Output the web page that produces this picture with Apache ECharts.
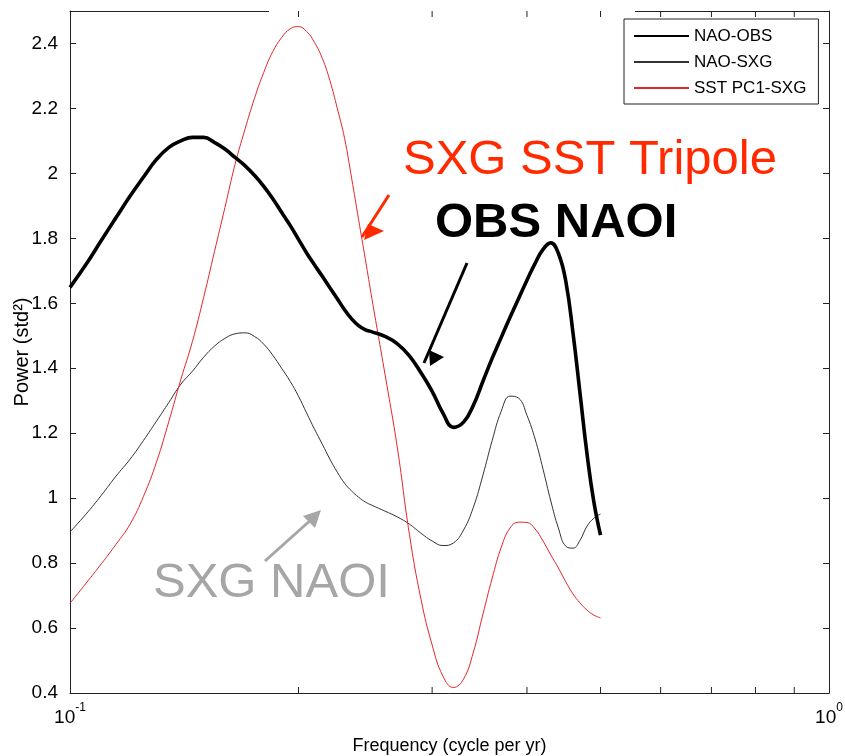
<!DOCTYPE html>
<html><head><meta charset="utf-8">
<script src="https://cdn.jsdelivr.net/npm/echarts@6/dist/echarts.min.js"></script>
<style>html,body{margin:0;padding:0;background:#fff}#c{width:845px;height:756px}</style>
</head><body><div id="c"></div>
<script>
// ---- data ----
const freq = [0.100,0.105,0.110,0.115,0.120,0.125,0.130,0.135,0.140,0.145,0.150,0.155,0.160,0.165,0.170,0.175,0.180,0.185,0.190,0.195,0.200,0.205,0.210,0.215,0.220,0.225,0.230,0.235,0.240,0.245,0.250,
  0.26,0.27,0.28,0.29,0.30,0.31,0.32,0.33,0.34,0.35,0.36,0.37,0.38,0.39,0.40,0.41,0.42,0.43,0.44,0.45,0.46,0.47,0.48,0.49,0.50];
const naoObs = [1.649,1.720,1.794,1.864,1.930,1.989,2.043,2.080,2.100,2.111,2.111,2.095,2.075,2.049,2.024,1.994,1.960,1.922,1.880,1.840,1.797,1.755,1.718,1.683,1.648,1.614,1.580,1.552,1.531,1.518,1.512,
  1.498,1.475,1.438,1.386,1.329,1.262,1.218,1.234,1.286,1.360,1.431,1.495,1.557,1.615,1.671,1.723,1.766,1.786,1.754,1.668,1.508,1.320,1.135,0.988,0.886];
const naoSxg = [0.896,0.951,1.009,1.068,1.120,1.178,1.237,1.295,1.351,1.391,1.434,1.468,1.492,1.506,1.509,1.498,1.474,1.440,1.400,1.360,1.314,1.262,1.212,1.166,1.120,1.080,1.046,1.022,1.003,0.988,0.978,
  0.960,0.942,0.920,0.892,0.868,0.854,0.862,0.902,0.972,1.071,1.178,1.268,1.314,1.308,1.255,1.182,1.089,0.991,0.908,0.852,0.846,0.871,0.914,0.938,0.951];
const sstPc1 = [0.676,0.738,0.798,0.858,0.920,1.006,1.111,1.237,1.366,1.483,1.618,1.759,1.895,2.028,2.135,2.231,2.311,2.375,2.418,2.445,2.452,2.437,2.403,2.354,2.286,2.200,2.108,1.985,1.858,1.735,1.612,
  1.382,1.154,0.889,0.689,0.548,0.452,0.417,0.443,0.526,0.643,0.754,0.849,0.908,0.926,0.925,0.905,0.868,0.825,0.785,0.742,0.705,0.677,0.655,0.640,0.631];
const seriesNames = ['NAO-OBS','NAO-SXG','SST PC1-SXG'];
const yMin = 0.4, yMax = 2.5, yStep = 0.2;
const xMinorTicks = [0.2,0.3,0.4,0.5,0.6,0.7,0.8,0.9];
const xAxisName = 'Frequency (cycle per yr)';
const yAxisName = 'Power (std²)';
const noteTexts = ['SXG SST Tripole','OBS NAOI','SXG NAOI'];

const FONT = '"Liberation Sans", Arial, Helvetica, sans-serif';
const pairs = v => freq.map((f,i)=>[f, v[i]]);

const chart = echarts.init(document.getElementById('c'), null, {renderer:'canvas'});
const axisLineStyle = {color:'#222', width:1};
const option = {
  animation:false,
  backgroundColor:'#fff',
  textStyle:{fontFamily:FONT},
  grid:{left:70, right:16, top:11, bottom:63, containLabel:false, outerBoundsMode:'none'},
  legend:{
    data:seriesNames, orient:'vertical', left:624, top:19,
    padding:[8,12,7,9], itemGap:8, itemWidth:55, itemHeight:14,
    borderColor:'#222', borderWidth:1, backgroundColor:'#fff',
    itemStyle:{opacity:0},
    textStyle:{fontFamily:FONT, fontSize:17, color:'#000', lineHeight:18},
    z:20
  },
  xAxis:[
    {type:'log', logBase:10, min:0.1, max:1, position:'bottom',
     name:xAxisName, nameLocation:'middle', nameGap:44, nameMoveOverlap:false,
     nameTextStyle:{fontFamily:FONT, fontSize:18, color:'#000'},
     axisLine:{lineStyle:axisLineStyle}, axisTick:{show:false}, splitLine:{show:false},
     axisLabel:{margin:9, color:'#000',
       formatter: v => '{b|10}{s|' + Math.round(Math.log10(v)) + '}',
       rich:{b:{fontFamily:FONT, fontSize:19, lineHeight:32, color:'#000'},
             s:{fontFamily:FONT, fontSize:12, lineHeight:12, verticalAlign:'top', color:'#000'}}}},
    {type:'log', logBase:10, min:0.1, max:1, position:'top',
     axisLine:{lineStyle:axisLineStyle}, axisTick:{show:false}, axisLabel:{show:false}, splitLine:{show:false}}
  ],
  yAxis:[
    {type:'value', min:yMin, max:yMax, interval:yStep, position:'left',
     name:yAxisName, nameLocation:'middle', nameGap:38, nameRotate:90, nameMoveOverlap:false,
     nameTextStyle:{fontFamily:FONT, fontSize:20, color:'#000'},
     axisLine:{show:true, lineStyle:axisLineStyle},
     axisTick:{show:true, inside:true, length:6, lineStyle:{color:'#222'}},
     splitLine:{show:false},
     axisLabel:{margin:12, fontFamily:FONT, fontSize:19, color:'#000',
       formatter: v => v > yMax - 0.05 ? '' : String(Math.round(v*10)/10)}},
    {type:'value', min:yMin, max:yMax, interval:yStep, position:'right',
     axisLine:{show:true, lineStyle:axisLineStyle},
     axisTick:{show:true, inside:true, length:6, lineStyle:{color:'#222'}},
     splitLine:{show:false}, axisLabel:{show:false}}
  ],
  series:[
    {name:seriesNames[0], type:'line', data:pairs(naoObs), symbol:'none', showSymbol:false, smooth:0.45,
     lineStyle:{color:'#000', width:3.6}, itemStyle:{color:'#000'}, z:4},
    {name:seriesNames[1], type:'line', data:pairs(naoSxg), symbol:'none', showSymbol:false, smooth:0.45,
     lineStyle:{color:'#333', width:1}, itemStyle:{color:'#333'}, z:3},
    {name:seriesNames[2], type:'line', data:pairs(sstPc1), symbol:'none', showSymbol:false, smooth:0.45,
     lineStyle:{color:'#e3262b', width:1}, itemStyle:{color:'#e3262b'}, z:3},
    {name:'minorTicks', type:'custom', silent:true, z:10, clip:false,
     data:xMinorTicks.map(f=>[f, yMin]), encode:{x:0, y:1},
     renderItem:(params, api) => {
       const f = api.value(0);
       const b = api.coord([f, yMin]);
       const t = api.coord([f, yMax]);
       return {type:'group', children:[
         {type:'line', shape:{x1:b[0], y1:b[1], x2:b[0], y2:b[1]-6}, style:{stroke:'#222', lineWidth:1}},
         {type:'line', shape:{x1:t[0], y1:t[1], x2:t[0], y2:t[1]+6}, style:{stroke:'#222', lineWidth:1}}
       ]};
     }}
  ],
  graphic:[
    {type:'rect', shape:{x:269, y:8, width:366, height:5}, style:{fill:'#fff'}, z:5, silent:true},
    // red annotation
    {type:'line', shape:{x1:389, y1:195, x2:362, y2:237}, style:{stroke:'#ff2a00', lineWidth:3}, z:30},
    {type:'polygon', shape:{points:[[364,240],[368,224],[384,231]]}, style:{fill:'#ff2a00'}, z:30},
    {type:'text', x:403, y:160, z:30, style:{text:noteTexts[0], font:'49px ' + FONT, fill:'#ff2a00',
      textAlign:'left', textVerticalAlign:'middle', align:'left', verticalAlign:'middle'}},
    // black annotation
    {type:'line', shape:{x1:467, y1:263, x2:424, y2:363}, style:{stroke:'#000', lineWidth:3}, z:30},
    {type:'polygon', shape:{points:[[429,350],[444,357],[430,366]]}, style:{fill:'#000'}, z:30},
    {type:'text', x:435, y:223, z:30, style:{text:noteTexts[1], font:'bold 49px ' + FONT, fill:'#000',
      textAlign:'left', textVerticalAlign:'middle', align:'left', verticalAlign:'middle'}},
    // gray annotation
    {type:'line', shape:{x1:265, y1:561, x2:313, y2:518}, style:{stroke:'#a6a6a6', lineWidth:3}, z:30},
    {type:'polygon', shape:{points:[[321,510],[303,516],[315,528]]}, style:{fill:'#a6a6a6'}, z:30},
    {type:'text', x:153, y:583, z:30, style:{text:noteTexts[2], font:'49px ' + FONT, fill:'#a6a6a6',
      textAlign:'left', textVerticalAlign:'middle', align:'left', verticalAlign:'middle'}}
  ]
};
chart.setOption(option);
</script>
</body></html>
